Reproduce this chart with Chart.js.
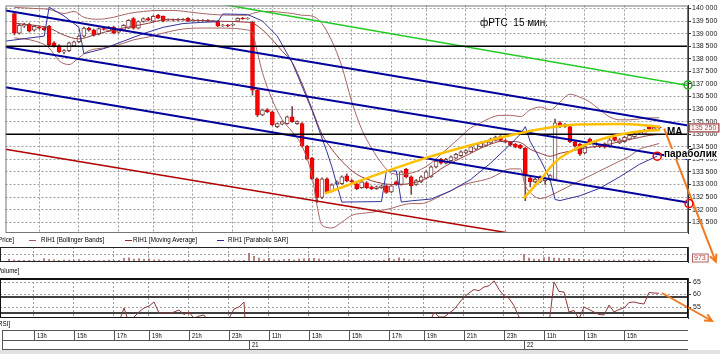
<!DOCTYPE html>
<html lang="ru">
<head>
<meta charset="utf-8">
<title>фРТС 15 мин.</title>
<script src="https://cdn.jsdelivr.net/npm/chart.js@4.4.0/dist/chart.umd.min.js"></script>
<style>
  html, body { margin: 0; padding: 0; }
  body { width: 720px; height: 354px; position: relative; overflow: hidden; background: #fff;
         font-family: "Liberation Sans", Arial, sans-serif; color: #000; }
  .layer { position: absolute; left: 0; top: 0; width: 720px; height: 354px; }
  .lbl { position: absolute; white-space: pre; line-height: 1; z-index: 10; }
  .tiny { font-size: 8px; transform: scaleX(0.78); transform-origin: 0 0; }
  .dash { position: absolute; height: 1px; width: 7px; z-index: 10; }
</style>
</head>
<body>
<div class="layer" style="z-index:1"><canvas id="volumeChart"></canvas></div>
<div class="layer" style="z-index:2"><canvas id="rsiChart"></canvas></div>
<div class="layer" style="z-index:3"><canvas id="priceChart"></canvas></div>

<div class="lbl tiny" style="left:-2px;top:236px">Price]</div>
<div class="dash" style="left:29px;top:240px;background:#a05a5a"></div>
<div class="lbl tiny" style="left:41px;top:236px">RIH1 [Bollinger Bands]</div>
<div class="dash" style="left:125px;top:240px;background:#8c2f2f"></div>
<div class="lbl tiny" style="left:133px;top:236px">RIH1 [Moving Average]</div>
<div class="dash" style="left:217px;top:240px;background:#2b2b8c"></div>
<div class="lbl tiny" style="left:228px;top:236px">RIH1 [Parabolic SAR]</div>
<div class="lbl tiny" style="left:-3px;top:267px">Volume]</div>
<div class="lbl tiny" style="left:-2px;top:320px">RSI]</div>

<div class="lbl" style="left:480px;top:18px;font-size:10px">фРТС  15 мин.</div>
<div class="lbl" style="left:667px;top:127px;font-size:10px;font-weight:bold">MA</div>
<div class="lbl" style="left:664px;top:149px;font-size:10px;font-weight:bold;background:#fff;padding-right:2px">параболик</div>
<div style="position:absolute;left:0;top:350px;width:720px;height:4px;background:#e2e2e2"></div>

<script>
// 15-minute candles, RIH1 (index 0 = 11:45 of day 20)
const opens = [139800,139020,139300,139370,139140,139260,139230,139290,138630,138510,138270,138320,138510,138680,138900,139220,139140,138980,139200,139100,
  139260,139060,139140,139220,139600,139220,139480,139600,139490,139730,139690,139530,139550,139530,139570,139610,139510,139530,139510,139530,
  139490,139490,139320,139340,139330,139490,139610,139590,139450,136750,135770,135970,135890,135300,135400,135420,135690,135420,135420,134520,
  134050,133220,132480,133220,132750,133030,133030,133340,133150,133030,132870,133070,132910,132830,132870,132950,132700,133100,133000,133600,
  133300,133000,133100,133250,133300,133700,134000,133850,133950,134050,134150,134250,134300,134400,134500,134550,134650,134750,134900,134750,
  134680,134600,134560,134440,133260,133100,133100,133150,133200,133200,135450,135300,135300,134700,134600,134250,134800,134500,134550,134620,
  134500,134870,134650,134700,134800,134900,135050,135000,135300,135200,135270];
const highs = [139850,139400,139420,139420,139330,139300,139280,139330,138680,138560,138360,138660,138700,138930,139260,139260,139180,139230,139240,139290,
  139300,139170,139360,139560,139640,139510,139630,139650,139720,139770,139710,139580,139580,139600,139600,139640,139560,139560,139560,139560,
  139530,139520,139370,139370,139400,139630,139650,139640,139500,136800,136000,136020,135920,135450,135530,135720,136100,135530,135460,134560,
  134080,133260,133260,133260,133030,133140,133340,133420,133190,133070,133140,133110,132950,132950,132990,132990,132990,133140,133540,133640,
  133340,133190,133340,133540,133740,133970,134040,134040,134140,134240,134340,134390,134540,134640,134690,134740,134840,134920,134940,134790,
  134720,134640,134600,134480,133300,133240,133340,133290,133390,135600,135500,135420,135340,134740,134640,134540,134840,134740,134590,134660,
  134820,135000,134820,134910,134990,135030,135140,135190,135340,135300,135300];
const lows = [138950,138980,139250,139060,139100,139180,139120,138480,138460,138240,138200,138280,138480,138650,138870,139100,138900,138950,139140,139080,
  138990,139030,139110,139200,139180,139190,139450,139500,139470,139590,139460,139500,139500,139510,139530,139470,139490,139490,139490,139470,
  139470,139280,139290,139280,139310,139470,139560,139560,136550,135700,135740,135860,135330,135260,135370,135400,135470,135390,134480,133980,
  133180,132280,132440,132630,132700,132990,133000,133100,133070,132790,132840,132830,132790,132800,132840,132640,132670,132960,132970,133260,
  132600,132960,133070,133220,133280,133660,133810,133820,133920,134020,134120,134220,134270,134370,134470,134520,134620,134720,134720,134650,
  134530,134450,134410,132360,132900,133060,133070,133000,133150,133150,135260,135270,134660,134480,134160,134220,134580,134470,134460,134440,
  134470,134720,134620,134670,134770,134870,135020,134970,135160,135170,135220];
const closes = [139020,139330,139370,139100,139290,139220,139150,138550,138510,138280,138320,138630,138670,138900,139220,139140,138940,139200,139170,139260,
  139020,139140,139330,139530,139220,139480,139600,139530,139690,139610,139490,139550,139530,139570,139550,139490,139530,139510,139530,139490,
  139510,139300,139340,139300,139370,139610,139580,139610,136750,135770,135970,135890,135380,135420,135500,135690,135500,135500,134520,134010,
  133220,132480,133220,132670,132990,133100,133300,133140,133110,132830,133100,132870,132830,132910,132950,132680,132950,133000,133500,133300,
  132950,133150,133300,133500,133700,133930,133850,134000,134100,134200,134300,134350,134500,134600,134650,134700,134800,134880,134750,134680,
  134560,134480,134440,133340,133100,133200,133300,133250,133350,135450,135300,135380,134700,134520,134200,134500,134620,134700,134500,134480,
  134780,134750,134780,134870,134950,134990,135100,135150,135200,135270,135250];
const volumes = [2500,1800,1500,1600,1400,1500,1300,3000,2200,2000,1600,1800,1700,1500,2200,1400,1600,1500,1300,1400,1700,1300,1500,
  3200,3800,2600,3000,2400,2800,2000,1900,
  1500,1300,1400,1200,1600,1300,1200,1400,1300,1200,1500,1300,1200,1400,1800,1300,1600,
  7800,5200,3600,2200,3400,2000,1800,2200,2400,1800,2600,2800,3200,
  3400,2600,2200,1800,1600,1700,1800,1500,1600,1500,1700,1400,1500,1600,1800,3600,2200,3800,2800,2000,1800,1700,1900,1600,1700,
  1500,1600,1400,1500,1600,1400,1500,1600,1500,1400,1600,1500,1800,1700,1500,1400,1500,
  6800,3600,2600,2400,3800,4400,3600,3200,2800,3400,2600,2400,2200,2000,1800,1900,1700,1600,1800,1700,1600,1500,1800,1700,1600,1900,1500,973];
const rsi = [44,46,47,45,46,45,44,38,36,33,34,38,40,43,47,46,44,46,46,48,45,47,49,54.6,
  48.5,51,53,54.6,55.4,57,52.6,52.6,52.4,53,53.8,52,53,50.5,51.4,51.8,49,46,47,48,50.4,54.2,55,57,
  22,18,22,21,17,20,22,26,25,17,13,11,9,8,16,14,20,22,26,23,22,20,25,23,22,24,21,25,24,33,30,27,33,36,40,44,48,
  53,51,51,52.5,54,56.5,59,60.6,62,61.5,63,63.5,65.5,62,59.5,58.5,55.5,51,
  35,33,36,38,42,48,65,61.2,61,53,53.6,50.2,55,54,53,52,51.8,55.8,53,54,54.6,56.8,57,56.5,56.2,60.8,60.6,60.5];

// indicators (x = candle index)
const bbUpX = [0,4,7,10,12,14,17,20,23,26,29,32,36,40,44,47,48,50,52,54,56,58,60,62,64,66,68,70,72,74,76,78,80,82,84,86,88,90,92,94,96,98,100,102,104,106,108,110,112,114,116,118,120,122,124,126,128,130];
const bbUpY = [140040,140000,139960,139800,139880,139650,139570,139650,139800,139880,139920,139920,139840,139760,139730,139730,139800,139880,139880,139840,
  139800,139730,139700,139400,138700,137700,136300,135200,134450,133850,133450,133400,133450,133600,133850,134200,134550,134900,135250,135450,
  135650,135750,135750,135700,135970,136080,135970,136280,136590,136470,136280,135970,135690,135570,135570,135610,135650,135650];
const bbLoX = [0,4,7,9,11,13,15,18,21,24,27,30,34,38,42,47,48,49,50,52,54,56,58,60,61,62,64,66,68,70,72,74,76,78,80,82,84,86,88,90,92,94,96,98,100,102,103,104,106,108,110,112,114,116,118,120,122,124,126,128,130];
const bbLoY = [138830,138710,138430,137920,137770,138040,138320,138430,138550,138750,138860,139020,139180,139220,139220,139140,139020,138240,137450,136360,
  135570,135100,134520,133340,132170,131380,131270,131500,131770,131850,131890,131970,132050,132170,132240,132240,132360,132560,132750,132950,
  133070,133150,133260,133460,133620,133620,132950,132680,132440,132560,132750,132950,133150,133340,133540,133730,133930,134120,134400,134520,134630];
const maX = [0,4,7,10,13,16,19,23,27,31,36,42,47,48,50,52,54,56,58,60,62,64,66,68,70,72,74,76,78,80,82,84,86,88,90,92,94,96,98,100,102,104,106,108,110,112,114,116,118,120,122,124,126,128,130];
const maY = [139410,139330,139220,138940,138790,138940,139100,139260,139410,139570,139530,139490,139450,139420,139150,138750,138300,137850,137000,136000,
  135000,134400,133930,133550,133300,133150,133050,133000,133000,133050,133150,133340,133620,133850,134050,134240,134440,134600,134710,134710,
  134670,134400,134240,134120,134240,134320,134400,134480,134520,134600,134710,134790,134870,134950,134990];
const sarX = [-1.8,6,7,10,13,14,18,22,26,30,34,38,41,42,47,50,53,56,60,63,64,66,74,75,77,78,80,84,88,92,96,100,102,103,104,106,108,109,110,114,118,122,126,129.6];
const sarY = [138700,138900,140050,139700,139250,138200,138400,138700,139000,139250,139400,139450,139470,139780,139760,139500,138900,137850,135950,134300,
  133700,132300,132320,133540,133540,132300,132350,132420,132750,133200,133850,134600,135000,135300,134700,134000,133200,132400,132360,132550,
  132850,133300,133800,134130];

// hand-drawn lines on the chart
const chTopX = [-1.8,135.8], chTopY = [139920,135340];
const chMidX = [-1.8,135.8], chMidY = [138470,134010];
const chLowX = [-1.8,135.8], chLowY = [136870,132280];
const greenX = [40,135.8], greenY = [140230,136940];
const redX = [-1.8,100], redY = [134400,131060];
const levelX = [-1.8,135.8], levels = [138500,135000];
const arc1X = [62.6,72.2,82.2,92,101.6,113.6,122,130.2], arc1Y = [132640,133330,134010,134560,135030,135380,135400,135300];
const arc2X = [102.6,106.2,108.8,112.2,118.8,124.2,130.2], arc2Y = [132440,133220,133850,134320,134830,135060,135180];
const arrowX = [131,141.4], arrowY = [135220,129930];
const marksGreen = [{x:135.8, y:136960}];
const marksRed = [{x:129.6, y:134125}, {x:136, y:132240}];

const rsiArrowX = [130.6,140.6], rsiArrowY = [60.6,49.4];
const rsiLevels = [59,52.6];

// axes
const priceTicks = [131500,132000,132500,133000,133500,134000,134500,135000,135500,136000,136500,137000,137500,138000,138500,139000,139500,140000];
const rsiTicks = [55,60,65];
const volTicks = [7000];
const hourLabels = ['13h','15h','17h','19h','21h','23h','11h','13h','15h','17h','19h','21h','23h','11h','13h','15h'];
const hourPos = [5,13,21,28,36,44,52,60,68,76,83,91,99,107,115,123];
const dayLabels = ['21','22'];
const dayPos = [48,103];

const X_MIN = -1.8, X_MAX = 135.8;

Chart.defaults.font.family = '"Liberation Sans", Arial, sans-serif';
Chart.defaults.animation = false;
Chart.defaults.events = [];
Chart.defaults.plugins.legend.display = false;
Chart.defaults.plugins.tooltip.enabled = false;

const idx = closes.map((_, i) => i);
const pts = (xs, ys) => xs.map((x, k) => ({ x: x, y: ys[k] }));
const fmt = v => String(v).replace(/\B(?=(\d{3})+(?!\d))/g, ' ');

function line(data, color, width, extra) {
  return Object.assign({ type: 'line', data: data, borderColor: color, borderWidth: width,
    pointRadius: 0, fill: false, tension: 0 }, extra || {});
}

function xAxis() {
  return {
    type: 'linear', min: X_MIN, max: X_MAX, offset: false,
    afterBuildTicks: s => { s.ticks = hourPos.map(v => ({ value: v })); },
    afterFit: s => { s.height = 0; },
    ticks: { display: false },
    grid: { color: '#9c9c9c', drawTicks: false, offset: false },
    border: { display: false, dash: [2, 2] }
  };
}

const framePlugin = {
  id: 'frame',
  afterDraw(chart, args, opts) {
    const { ctx, chartArea: a } = chart;
    ctx.save();
    ctx.strokeStyle = opts.color || '#000';
    ctx.lineWidth = 1;
    ctx.strokeRect(a.left + 0.5, a.top + 0.5, a.right - a.left - 1, a.bottom - a.top - 1);
    if (opts.topWidth) {
      ctx.lineWidth = opts.topWidth;
      ctx.beginPath(); ctx.moveTo(a.left, a.top + 1); ctx.lineTo(a.right, a.top + 1); ctx.stroke();
    }
    ctx.restore();
  }
};

function drawTag(ctx, x, y, text) {
  ctx.save();
  ctx.font = '7px "Liberation Sans"';
  const w = ctx.measureText(text).width + 4;
  ctx.fillStyle = '#fff';
  ctx.fillRect(x, y - 4.5, w, 9);
  ctx.strokeStyle = '#b06060';
  ctx.strokeRect(x + 0.5, y - 4, w, 8);
  ctx.fillStyle = '#b04040';
  ctx.textBaseline = 'middle';
  ctx.fillText(text, x + 2, y + 0.5);
  ctx.restore();
}

function arrowHead(ctx, meta, color) {
  const p = meta.data;
  if (p.length < 2) return;
  const a = p[p.length - 2], b = p[p.length - 1];
  const ang = Math.atan2(b.y - a.y, b.x - a.x);
  ctx.save();
  ctx.strokeStyle = color; ctx.lineWidth = 2;
  ctx.beginPath();
  ctx.moveTo(b.x - 8 * Math.cos(ang - 0.45), b.y - 8 * Math.sin(ang - 0.45));
  ctx.lineTo(b.x, b.y);
  ctx.lineTo(b.x - 8 * Math.cos(ang + 0.45), b.y - 8 * Math.sin(ang + 0.45));
  ctx.stroke();
  ctx.restore();
}

// Price panel
const pricePlugin = {
  id: 'priceExtras',
  afterDraw(chart) {
    const { ctx, scales } = chart;
    const last = closes[closes.length - 1];
    drawTag(ctx, chart.chartArea.right + 1, scales.y.getPixelForValue(last), fmt(last));
    const i = chart.data.datasets.findIndex(d => d.label === 'arrow');
    arrowHead(ctx, chart.getDatasetMeta(i), '#ee7a22');
  }
};

new Chart(document.getElementById('priceChart'), {
  type: 'bar',
  data: {
    datasets: [
      { type: 'bar', label: 'wicks', data: idx.map(i => ({ x: i, y: [lows[i], highs[i]] })),
        backgroundColor: '#7a4848', barThickness: 1, grouped: false, order: 20 },
      { type: 'bar', label: 'bodies', data: idx.map(i => ({ x: i, y: [opens[i], closes[i]] })),
        backgroundColor: idx.map(i => closes[i] < opens[i] ? '#ff0000' : '#ffffff'),
        borderColor: idx.map(i => closes[i] < opens[i] ? '#dd0000' : '#7a4848'),
        borderWidth: 1, borderSkipped: false, barThickness: 4, grouped: false, order: 19 },
      line(pts(bbUpX, bbUpY), '#a86464', 1, { cubicInterpolationMode: 'monotone', order: 12 }),
      line(pts(bbLoX, bbLoY), '#a86464', 1, { cubicInterpolationMode: 'monotone', order: 12 }),
      line(pts(maX, maY), '#943c3c', 1, { cubicInterpolationMode: 'monotone', order: 11 }),
      line(pts(sarX, sarY), '#34349a', 1, { order: 10 }),
      line(pts(chTopX, chTopY), '#00009c', 2, { order: 8 }),
      line(pts(chMidX, chMidY), '#00009c', 2, { order: 8 }),
      line(pts(chLowX, chLowY), '#00009c', 2, { order: 8 }),
      line(pts(greenX, greenY), '#22cc22', 1.5, { order: 8 }),
      line(pts(redX, redY), '#b00000', 1.5, { order: 8 }),
      line(pts(levelX, [levels[0], levels[0]]), '#000000', 1.5, { order: 7 }),
      line(pts(levelX, [levels[1], levels[1]]), '#000000', 1.5, { order: 7 }),
      line(pts(arc1X, arc1Y), '#ffc000', 2.5, { cubicInterpolationMode: 'monotone', order: 3 }),
      line(pts(arc2X, arc2Y), '#ffc000', 2.5, { cubicInterpolationMode: 'monotone', order: 3 }),
      line(pts(arrowX, arrowY), '#ee7a22', 2, { label: 'arrow', clip: false, order: 2 }),
      line(marksGreen, '#22aa22', 1.5, { showLine: false, pointRadius: 4, pointBorderWidth: 1.5,
        pointBorderColor: '#22aa22', pointBackgroundColor: 'rgba(255,255,255,0)', clip: false, order: 1 }),
      line(marksRed, '#ee0000', 1.5, { showLine: false, pointRadius: 4, pointBorderWidth: 1.5,
        pointBorderColor: '#ee0000', pointBackgroundColor: 'rgba(255,255,255,0)', clip: false, order: 1 })
    ]
  },
  options: {
    responsive: true,
    maintainAspectRatio: false,
    layout: { padding: { left: 0, right: 0, top: 2, bottom: 121 } },
    scales: {
      x: xAxis(),
      y: {
        type: 'linear', position: 'right', min: 131070, max: 140117,
        afterBuildTicks: s => { s.ticks = priceTicks.map(v => ({ value: v })); },
        afterFit: s => { s.width = 32; },
        ticks: { font: { size: 7 }, color: '#222', padding: 1, callback: v => fmt(v) },
        grid: { color: '#9c9c9c', tickColor: '#333', tickLength: 3 },
        border: { display: true, color: '#333', width: 1, dash: [2, 2] }
      }
    },
    plugins: { frame: { color: '#777' } }
  },
  plugins: [framePlugin, pricePlugin]
});

// Volume panel
const volumePlugin = {
  id: 'volTag',
  afterDraw(chart) {
    const v = volumes[volumes.length - 1];
    const y = Math.min(chart.scales.y.getPixelForValue(v), chart.chartArea.bottom - 4);
    drawTag(chart.ctx, chart.chartArea.right + 4, y, String(v));
  }
};

new Chart(document.getElementById('volumeChart'), {
  type: 'bar',
  data: {
    datasets: [{ label: 'Volume', data: idx.map(i => ({ x: i, y: volumes[i] })),
      backgroundColor: '#a86868', barThickness: 1, grouped: false }]
  },
  options: {
    responsive: true,
    maintainAspectRatio: false,
    layout: { padding: { left: 0, right: 0, top: 247, bottom: 92 } },
    scales: {
      x: xAxis(),
      y: {
        type: 'linear', position: 'right', min: 0, max: 13500,
        afterBuildTicks: s => { s.ticks = volTicks.map(v => ({ value: v })); },
        afterFit: s => { s.width = 32; },
        ticks: { display: false },
        grid: { color: '#9c9c9c', drawTicks: false },
        border: { display: true, color: '#333', dash: [2, 2] }
      }
    },
    plugins: { frame: { color: '#222' } }
  },
  plugins: [framePlugin, volumePlugin]
});

// RSI panel + time axis
const timeAxisPlugin = {
  id: 'timeAxis',
  afterDraw(chart) {
    const { ctx } = chart;
    const x = chart.scales.x;
    const left = 2, right = chart.chartArea.right;
    const y0 = 330, y1 = 340, y2 = 349;
    ctx.save();
    ctx.strokeStyle = '#555';
    ctx.lineWidth = 1;
    ctx.beginPath();
    [y0, y1, y2].forEach(y => { ctx.moveTo(left, y + 0.5); ctx.lineTo(right, y + 0.5); });
    ctx.moveTo(left + 0.5, y0); ctx.lineTo(left + 0.5, y2);
    hourPos.forEach(p => { const px = Math.round(x.getPixelForValue(p)) + 0.5; ctx.moveTo(px, y0); ctx.lineTo(px, y1); });
    dayPos.forEach(p => { const px = Math.round(x.getPixelForValue(p)) + 0.5; ctx.moveTo(px, y1); ctx.lineTo(px, y2); });
    ctx.stroke();
    ctx.fillStyle = '#000';
    ctx.font = '8px "Liberation Sans"';
    ctx.textBaseline = 'middle';
    const put = (t, px, py) => { ctx.save(); ctx.translate(px, py); ctx.scale(0.72, 1); ctx.fillText(t, 0, 0); ctx.restore(); };
    hourLabels.forEach((t, k) => put(t, Math.round(x.getPixelForValue(hourPos[k])) + 3, y0 + 5.5));
    dayLabels.forEach((t, k) => put(t, Math.round(x.getPixelForValue(dayPos[k])) + 3, y1 + 5));
    const i = chart.data.datasets.findIndex(d => d.label === 'arrow');
    arrowHead(ctx, chart.getDatasetMeta(i), '#ee7a22');
    ctx.restore();
  }
};

new Chart(document.getElementById('rsiChart'), {
  type: 'line',
  data: {
    datasets: [
      line(idx.map(i => ({ x: i, y: rsi[i] })), '#8c3a3a', 1, { label: 'RSI', order: 5 }),
      line(pts(levelX, [rsiLevels[0], rsiLevels[0]]), '#000', 1.5, { order: 6 }),
      line(pts(levelX, [rsiLevels[1], rsiLevels[1]]), '#000', 1.5, { order: 6 }),
      line(pts(rsiArrowX, rsiArrowY), '#ee7a22', 2, { label: 'arrow', clip: false, order: 1 })
    ]
  },
  options: {
    responsive: true,
    maintainAspectRatio: false,
    layout: { padding: { left: 0, right: 0, top: 278, bottom: 36 } },
    scales: {
      x: xAxis(),
      y: {
        type: 'linear', position: 'right', min: 50.6, max: 66.6,
        afterBuildTicks: s => { s.ticks = rsiTicks.map(v => ({ value: v })); },
        afterFit: s => { s.width = 32; },
        ticks: { font: { size: 7 }, color: '#222', padding: 2 },
        grid: { color: '#9c9c9c', tickColor: '#333', tickLength: 3 },
        border: { display: true, color: '#333', dash: [2, 2] }
      }
    },
    plugins: { frame: { color: '#111', topWidth: 2 } }
  },
  plugins: [framePlugin, timeAxisPlugin]
});
</script>
</body>
</html>
